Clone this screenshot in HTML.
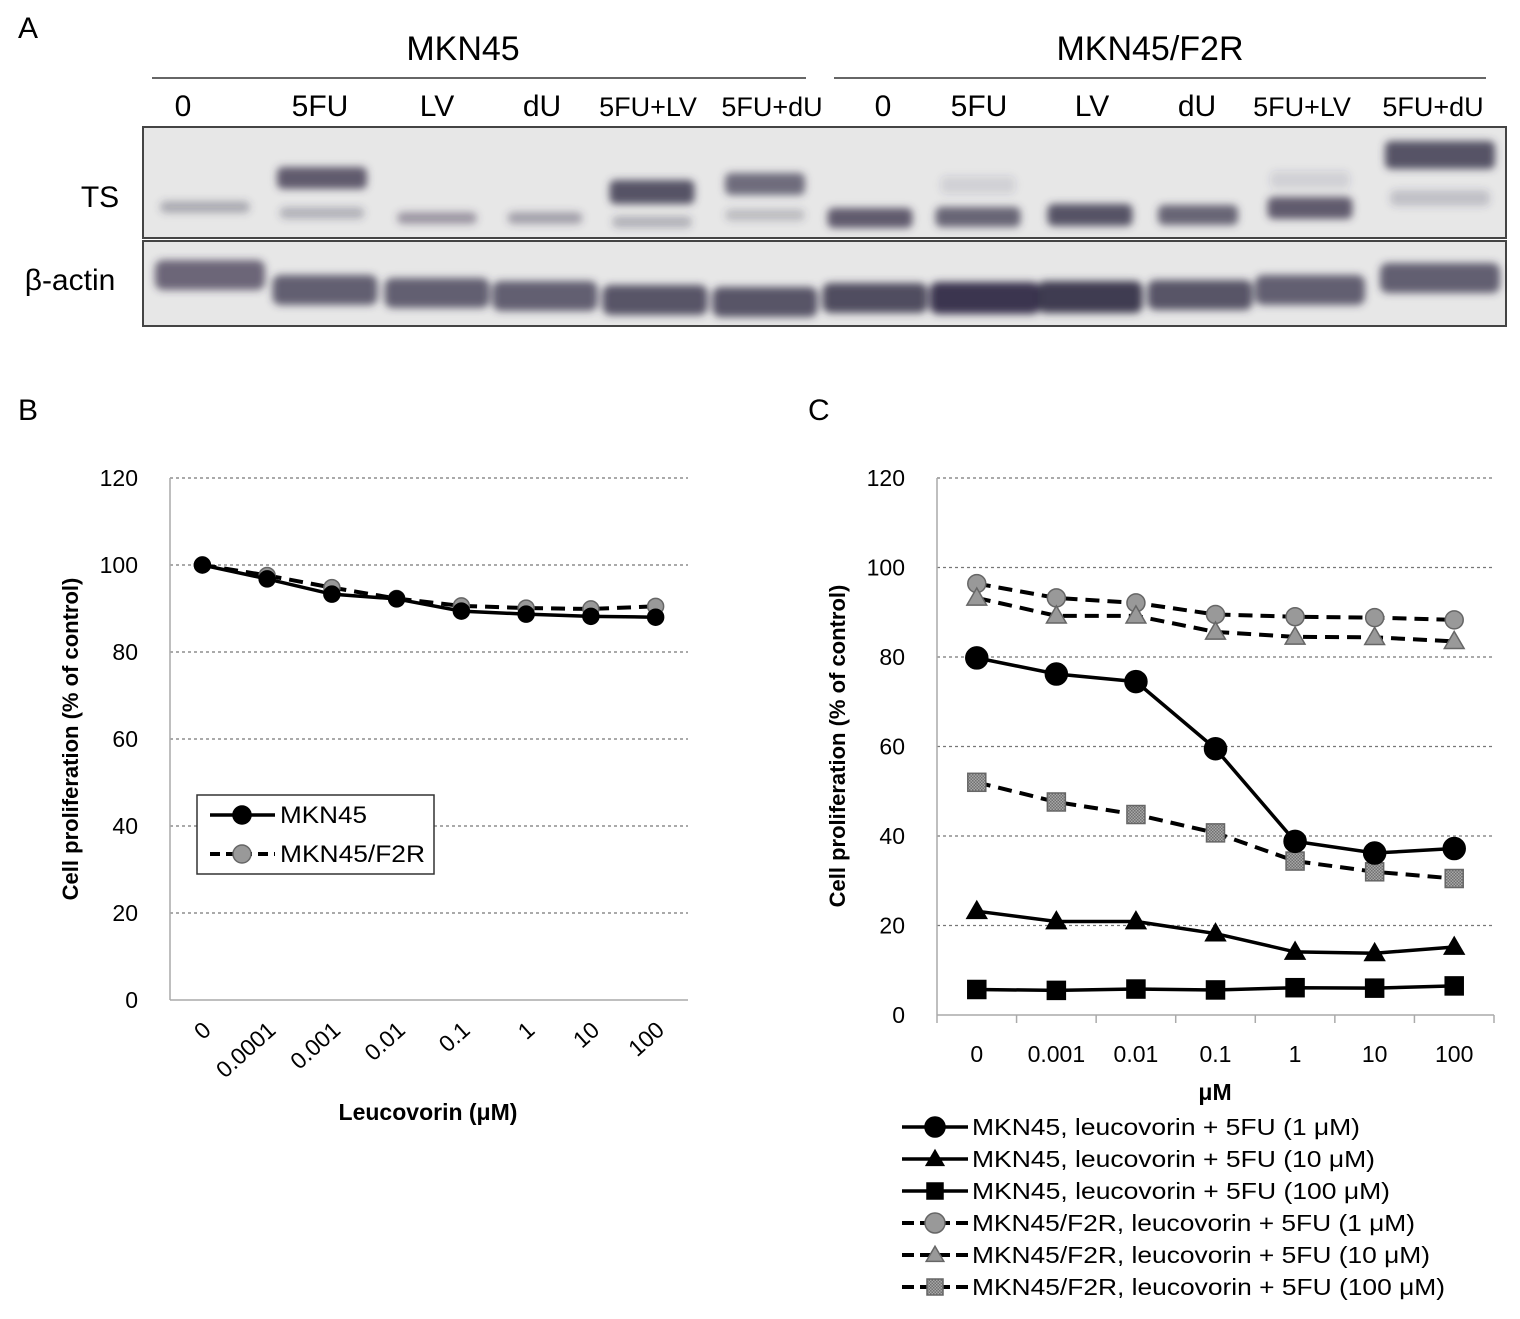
<!DOCTYPE html>
<html><head><meta charset="utf-8"><style>
html,body{margin:0;padding:0;background:#fff;}
svg{display:block;font-family:"Liberation Sans",sans-serif;}
</style></head><body>
<svg width="1520" height="1319" viewBox="0 0 1520 1319">
<defs>
<filter id="blur" x="-20%" y="-50%" width="140%" height="200%"><feGaussianBlur stdDeviation="4"/></filter>
<pattern id="chk" width="3" height="3" patternUnits="userSpaceOnUse"><rect width="3" height="3" fill="#a8a8a8"/><rect width="1.5" height="1.5" fill="#707070"/><rect x="1.5" y="1.5" width="1.5" height="1.5" fill="#707070"/></pattern>
</defs>
<g id="panelA">
<text x="18" y="38" font-size="30">A</text>
<text x="463" y="60" font-size="34" text-anchor="middle">MKN45</text>
<text x="1150" y="60" font-size="34" text-anchor="middle">MKN45/F2R</text>
<line x1="152" y1="78" x2="806" y2="78" stroke="#333" stroke-width="1.5"/>
<line x1="834" y1="78" x2="1486" y2="78" stroke="#333" stroke-width="1.5"/>
<g id="laneLabels"></g>
<rect x="143" y="127" width="1363" height="111" fill="#e7e7e7" stroke="#444" stroke-width="2"/>
<rect x="143" y="241" width="1363" height="85" fill="#e7e7e7" stroke="#444" stroke-width="2"/>
<g id="bands" filter="url(#blur)"></g>
<text x="100" y="207" font-size="30" text-anchor="middle">TS</text>
<text x="70" y="290" font-size="30" text-anchor="middle">β-actin</text>
</g>
<text x="18" y="420" font-size="30">B</text>
<text x="808" y="420" font-size="30">C</text>
<g id="chartB"></g>
<g id="chartC"></g>
</svg>
<script>
const NS="http://www.w3.org/2000/svg";
function mk(tag,attrs,parent,text){const e=document.createElementNS(NS,tag);for(const k in attrs)e.setAttribute(k,attrs[k]);if(text!==undefined)e.textContent=text;parent.appendChild(e);return e;}

// ---- Blot ----
const laneLabels=["0","5FU","LV","dU","5FU+LV","5FU+dU","0","5FU","LV","dU","5FU+LV","5FU+dU"];
const laneX=[183,320,437,542,648,772,883,979,1092,1197,1302,1433];
const tsBands=[[205,207,90,12,0.35],[322,178,90,22,0.8],[322,213,85,12,0.3],[437,218,80,12,0.45],[545,218,75,12,0.4],[652,192,85,24,0.85],[652,222,80,12,0.3],[765,184,80,22,0.7],[765,215,80,12,0.25],[870,218,85,20,0.8],[978,217,85,20,0.75],[978,185,75,18,0.12],[1090,215,85,22,0.85],[1198,215,80,20,0.75],[1310,208,85,22,0.8],[1310,180,80,18,0.12],[1440,155,110,28,0.85],[1440,198,100,16,0.22]];
const actinBands=[[210,275,110,30,0.7],[325,290,105,30,0.75],[437,293,105,30,0.75],[545,296,105,30,0.75],[655,300,105,30,0.8],[765,302,105,30,0.8],[875,298,105,30,0.85],[985,298,110,32,0.97],[1090,297,105,32,0.95],[1200,295,105,30,0.8],[1310,290,110,30,0.75],[1440,278,120,30,0.75]];
const ll=document.getElementById('laneLabels');
laneLabels.forEach((t,i)=>{const fs=t.length>4?27:30;const e=mk('text',{x:laneX[i],y:116,'font-size':fs,'text-anchor':'middle'},ll,t);

});
const bg=document.getElementById('bands');
tsBands.forEach((b,i)=>{const e=mk('rect',{x:b[0]-b[2]/2,y:b[1]-b[3]/2,width:b[2],height:b[3],rx:6,fill:'#3d3850','fill-opacity':b[4]},bg);

});
actinBands.forEach((b,i)=>{const e=mk('rect',{x:b[0]-b[2]/2,y:b[1]-b[3]/2,width:b[2],height:b[3],rx:8,fill:'#363149','fill-opacity':b[4]},bg);

});

// ---- Chart B data ----
const bCats=["0","0.0001","0.001","0.01","0.1","1","10","100"];
const bTicks=[0,20,40,60,80,100,120];
const bMKN45=[100,96.8,93.3,92.2,89.4,88.7,88.2,88.0];
const bF2R=[100,97.6,94.8,92.3,90.6,90.1,89.9,90.5];

// ---- Chart C data ----
const cCats=["0","0.001","0.01","0.1","1","10","100"];
const cTicks=[0,20,40,60,80,100,120];
const cM1=[79.8,76.2,74.5,59.5,38.8,36.2,37.2];
const cM10=[23.2,20.9,20.9,18.2,14.1,13.8,15.2];
const cM100=[5.7,5.5,5.8,5.6,6.1,6.0,6.5];
const cF1=[96.4,93.2,92.1,89.5,89.0,88.8,88.3];
const cF10=[93.2,89.2,89.2,85.6,84.5,84.4,83.5];
const cF100=[52.0,47.6,44.8,40.7,34.4,32.0,30.5];

function marker(g,type,x,y,fill,s){
  let e;
  if(type==='circle')e=mk('circle',{cx:x,cy:y,r:s,fill:fill,stroke:fill==='#000'?'#000':'#666','stroke-width':1.5},g);
  else if(type==='tri')e=mk('polygon',{points:`${x},${y-s*1.1} ${x-s*1.1},${y+s*0.8} ${x+s*1.1},${y+s*0.8}`,fill:fill,stroke:fill==='#000'?'#000':'#666','stroke-width':1.5},g);
  else e=mk('rect',{x:x-s,y:y-s,width:2*s,height:2*s,fill:fill,stroke:fill==='#000'?'#000':'#666','stroke-width':1.5},g);
  return e;
}
function axisChart(g,L,R,T,B,cats,ticks,yMax){
  const band=(R-L)/cats.length;
  const X=i=>L+band*(i+0.5);
  const Y=v=>B-(v/yMax)*(B-T);
  ticks.forEach(t=>{
    if(t>0){const gl=mk('line',{x1:L,y1:Y(t),x2:R,y2:Y(t),stroke:'#777','stroke-width':1.2,'stroke-dasharray':'3,3'},g);
    
    }
    const tl=mk('text',{x:L-32,y:Y(t)+8,'font-size':23,'text-anchor':'end'},g,String(t));
    
    
  });
  const ya=mk('line',{x1:L,y1:T,x2:L,y2:B,stroke:'#aaa','stroke-width':1.5},g);
  
  
  const xa=mk('line',{x1:L,y1:B,x2:R,y2:B,stroke:'#aaa','stroke-width':1.5},g);
  
  
  return {X,Y,band};
}
function series(g,vals,ax,type,dashed,fill,s,name){
  const pts=vals.map((v,i)=>ax.X(i)+','+ax.Y(v)).join(' ');
  const pl=mk('polyline',{points:pts,fill:'none',stroke:'#000','stroke-width':dashed?4:3.5,'stroke-dasharray':dashed?'14,8':'none'},g);
  
  
  vals.forEach((v,i)=>{const m=marker(g,type,ax.X(i),ax.Y(v),fill,s);
  
  });
}
// Chart B
(function(){
  const g=document.getElementById('chartB');
  const ax=axisChart(g,170,688,478,1000,bCats,bTicks,120);
  bCats.forEach((c,i)=>{const t=mk('text',{x:ax.X(i)+10,y:1032,'font-size':23,'text-anchor':'end',transform:`rotate(-42 ${ax.X(i)+10} 1032)`},g,c);
  
  });
  const xt=mk('text',{x:428,y:1120,'font-size':23,'font-weight':'bold','text-anchor':'middle'},g,'Leucovorin (μM)');
  
  
  const yt=mk('text',{x:78,y:739,'font-size':22,'font-weight':'bold','text-anchor':'middle',transform:'rotate(-90 78 739)'},g,'Cell proliferation (% of control)');
  
  
  series(g,bF2R,ax,'circle',true,'#999',8,'mkn45-f2r');
  series(g,bMKN45,ax,'circle',false,'#000',8,'mkn45');
  const lg=mk('g',{},g);
  
  
  mk('rect',{x:197,y:795,width:237,height:79,fill:'#fff',stroke:'#333','stroke-width':1.5},lg);
  [['MKN45',false,'#000',815,87],['MKN45/F2R',true,'#999',854,145]].forEach(([n,d,f,y,w])=>{
    const e=mk('g',{},lg);
    
    
    mk('line',{x1:210,y1:y,x2:275,y2:y,stroke:'#000','stroke-width':d?4:3.5,'stroke-dasharray':d?'10,6':'none'},e);
    marker(e,'circle',242,y,f,9);
    mk('text',{x:280,y:y+8,'font-size':24,textLength:w,lengthAdjust:'spacingAndGlyphs'},e,n);
  });
})();
// Chart C
(function(){
  const g=document.getElementById('chartC');
  const ax=axisChart(g,937,1494,478,1015,cCats,cTicks,120);
  for(let i=0;i<=cCats.length;i++){const x=937+ax.band*i;const t=mk('line',{x1:x,y1:1015,x2:x,y2:1023,stroke:'#aaa','stroke-width':1.5},g);
  
  }
  cCats.forEach((c,i)=>{const t=mk('text',{x:ax.X(i),y:1062,'font-size':23,'text-anchor':'middle'},g,c);
  
  });
  const xt=mk('text',{x:1215,y:1100,'font-size':23,'font-weight':'bold','text-anchor':'middle'},g,'μM');
  
  
  const yt=mk('text',{x:845,y:746,'font-size':22,'font-weight':'bold','text-anchor':'middle',transform:'rotate(-90 845 746)'},g,'Cell proliferation (% of control)');
  
  
  series(g,cF1,ax,'circle',true,'#999',9,'f2r-5fu-1');
  series(g,cF10,ax,'tri',true,'#999',9,'f2r-5fu-10');
  series(g,cF100,ax,'rect',true,'url(#chk)',9,'f2r-5fu-100');
  series(g,cM1,ax,'circle',false,'#000',11,'mkn45-5fu-1');
  series(g,cM10,ax,'tri',false,'#000',9,'mkn45-5fu-10');
  series(g,cM100,ax,'rect',false,'#000',9,'mkn45-5fu-100');
  const lg=mk('g',{},g);
  
  
  const ents=[['MKN45, leucovorin + 5FU (1 μM)','circle',false,'#000',388],['MKN45, leucovorin + 5FU (10 μM)','tri',false,'#000',403],['MKN45, leucovorin + 5FU (100 μM)','rect',false,'#000',418],['MKN45/F2R, leucovorin + 5FU (1 μM)','circle',true,'#999',443],['MKN45/F2R, leucovorin + 5FU (10 μM)','tri',true,'#999',458],['MKN45/F2R, leucovorin + 5FU (100 μM)','rect',true,'url(#chk)',473]];
  ents.forEach((en,i)=>{
    const y=1127+i*32;
    const e=mk('g',{},lg);
    
    
    mk('line',{x1:902,y1:y,x2:968,y2:y,stroke:'#000','stroke-width':en[2]?4:3.5,'stroke-dasharray':en[2]?'12,6':'none'},e);
    marker(e,en[1],935,y,en[3],en[1]==='circle'?10:8);
    mk('text',{x:972,y:y+8,'font-size':23,textLength:en[4],lengthAdjust:'spacingAndGlyphs'},e,en[0]);
  });
})();
</script>
</body></html>
